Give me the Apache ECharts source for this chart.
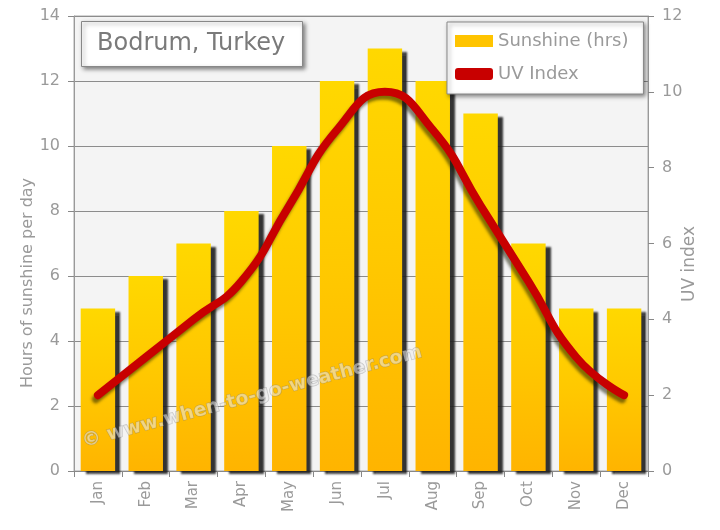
<!DOCTYPE html>
<html>
<head>
<meta charset="utf-8">
<script src="https://cdn.jsdelivr.net/npm/echarts@6/dist/echarts.min.js"></script>
<style>
  html, body { margin: 0; padding: 0; background: #fff; }
  #chart { width: 720px; height: 530px; }
</style>
</head>
<body>
<div id="chart"></div>
<script>
// 数据
const months = ['Jan', 'Feb', 'Mar', 'Apr', 'May', 'Jun', 'Jul', 'Aug', 'Sep', 'Oct', 'Nov', 'Dec'];
const sunshine = [5, 6, 7, 8, 10, 12, 13, 12, 11, 7, 5, 5];
const uvIndex = [2, 3, 4, 5, 7, 9, 10, 9, 7, 5, 3, 2];

const fontFamily = '"DejaVu Sans", Verdana, sans-serif';
const gray = '#9a9a9a';

const myChart = echarts.init(document.getElementById('chart'));

const option = {
  backgroundColor: '#fff',
  animation: false,
  title: {
    text: 'Bodrum, Turkey',
    left: 81,
    top: 21,
    padding: [11, 18, 11, 16],
    backgroundColor: '#fff',
    borderColor: '#888',
    borderWidth: 1,
    shadowColor: 'rgba(0,0,0,0.45)',
    shadowBlur: 4,
    shadowOffsetX: 2,
    shadowOffsetY: 2,
    textStyle: { fontFamily, fontSize: 24, fontWeight: 'normal', color: '#7a7a7a' }
  },
  legend: {
    orient: 'vertical',
    left: 447,
    top: 22,
    padding: [10, 15, 11, 8],
    itemGap: 15,
    itemWidth: 38,
    itemHeight: 12,
    backgroundColor: '#fff',
    borderColor: '#888',
    borderWidth: 1,
    shadowColor: 'rgba(0,0,0,0.45)',
    shadowBlur: 4,
    shadowOffsetX: 2,
    shadowOffsetY: 2,
    textStyle: { fontFamily, fontSize: 18, color: gray },
    data: [
      { name: 'Sunshine (hrs)', icon: 'rect', itemStyle: { color: '#ffc400', shadowBlur: 0, shadowOffsetX: 0, shadowOffsetY: 0 } },
      { name: 'UV Index', icon: 'roundRect', itemStyle: { color: '#c80000' } }
    ]
  },
  grid: {
    left: 74,
    right: 72,
    top: 16,
    bottom: 59,
    show: true,
    backgroundColor: '#f4f4f4',
    borderColor: '#aaa',
    borderWidth: 1
  },
  xAxis: {
    type: 'category',
    data: months,
    axisLine: { lineStyle: { color: '#888' } },
    axisTick: { show: true, length: 6, lineStyle: { color: '#888' } },
    axisLabel: { rotate: 90, margin: 10, fontFamily, fontSize: 15, color: gray }
  },
  yAxis: [
    {
      type: 'value',
      min: 0,
      max: 14,
      interval: 2,
      position: 'left',
      axisLine: { show: true, lineStyle: { color: '#999' } },
      axisTick: { show: true, length: 6, lineStyle: { color: '#888' } },
      axisLabel: { fontFamily, fontSize: 16, color: gray, margin: 14 },
      splitLine: { lineStyle: { color: '#8c8c8c', width: 1 } }
    },
    {
      type: 'value',
      min: 0,
      max: 12,
      interval: 2,
      position: 'right',
      axisLine: { show: true, lineStyle: { color: '#999' } },
      axisTick: { show: true, length: 6, lineStyle: { color: '#888' } },
      axisLabel: { fontFamily, fontSize: 16, color: gray, margin: 14 },
      splitLine: { show: false }
    }
  ],
  series: [
    {
      name: 'Sunshine (hrs)',
      type: 'bar',
      data: sunshine,
      barWidth: '72%',
      itemStyle: {
        color: new echarts.graphic.LinearGradient(0, 0, 0, 1, [
          { offset: 0, color: '#ffd800' },
          { offset: 0.5, color: '#ffc800' },
          { offset: 1, color: '#ffb400' }
        ]),
        shadowColor: 'rgba(30,30,30,0.9)',
        shadowBlur: 2,
        shadowOffsetX: 5,
        shadowOffsetY: 3
      }
    },
    {
      name: 'UV Index',
      type: 'line',
      yAxisIndex: 1,
      data: uvIndex,
      smooth: 0.5,
      symbol: 'none',
      z: 5,
      lineStyle: {
        color: '#c80000',
        width: 8,
        cap: 'round',
        shadowColor: 'rgba(30,30,0,0.55)',
        shadowBlur: 3,
        shadowOffsetX: -2,
        shadowOffsetY: 4
      }
    }
  ],
  graphic: [
    {
      type: 'text',
      x: 28,
      y: 283,
      rotation: Math.PI / 2,
      style: {
        text: 'Hours of sunshine per day',
        fontFamily, fontSize: 16, fill: gray,
        align: 'center', verticalAlign: 'middle'
      }
    },
    {
      type: 'text',
      x: 690,
      y: 264,
      rotation: Math.PI / 2,
      style: {
        text: 'UV index',
        fontFamily, fontSize: 17, fill: gray,
        align: 'center', verticalAlign: 'middle'
      }
    },
    {
      type: 'text',
      x: 252,
      y: 397,
      rotation: 0.26,
      z: 10,
      style: {
        text: '© www.when-to-go-weather.com',
        fontFamily, fontSize: 19, fontWeight: 'bold',
        fill: 'rgba(235,235,235,0.55)',
        stroke: 'rgba(110,110,110,0.35)',
        lineWidth: 1,
        align: 'center', verticalAlign: 'middle'
      }
    }
  ]
};

myChart.setOption(option);
</script>
</body>
</html>
